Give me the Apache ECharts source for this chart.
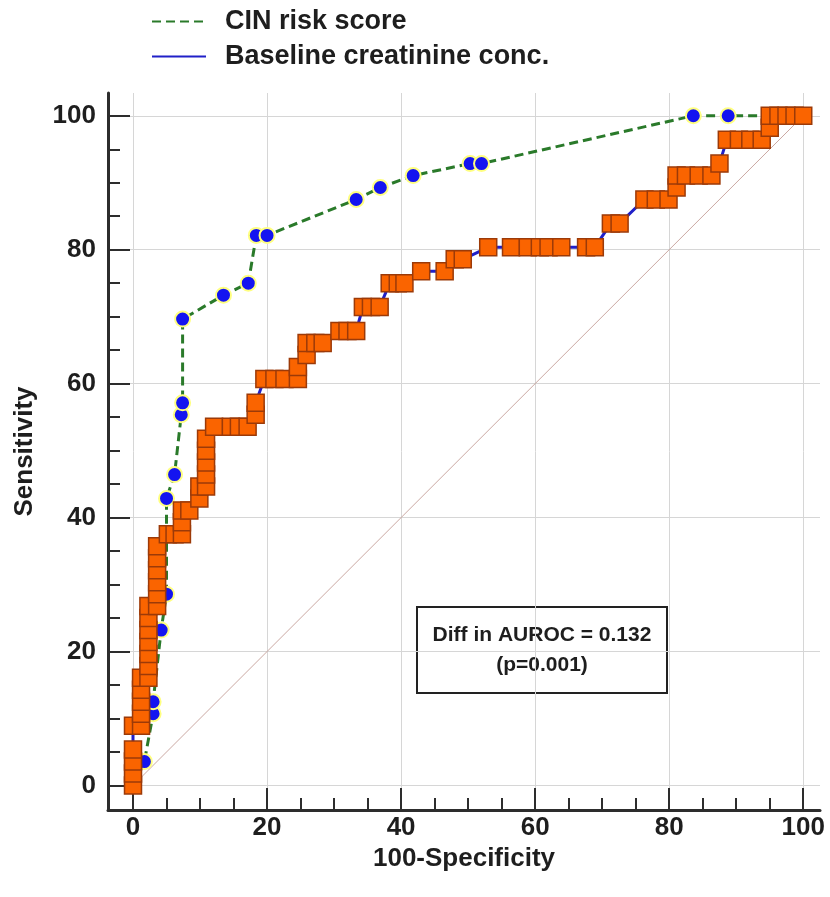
<!DOCTYPE html>
<html><head><meta charset="utf-8">
<script src="https://cdn.jsdelivr.net/npm/echarts@6/dist/echarts.min.js"></script>
<style>html,body{margin:0;padding:0;background:#fff}#c{width:830px;height:897px}</style>
</head><body><div id="c"></div><script>
// ---- data ----
const seriesNames = ['CIN risk score', 'Baseline creatinine conc.'];
const cinX = [0, 1.7, 3.0, 3.0, 4.2, 5.0, 5.0, 6.2, 7.2, 7.4, 7.4, 13.5, 17.2, 18.4, 20.0, 33.3, 36.9, 41.8, 50.3, 52.0, 83.6, 88.8, 100];
const cinY = [0, 3.57, 10.71, 12.5, 23.21, 28.57, 42.86, 46.43, 55.36, 57.14, 69.64, 73.21, 75.0, 82.14, 82.14, 87.5, 89.29, 91.07, 92.86, 92.86, 100, 100, 100];
const creatX = [0, 0, 0, 0, 0, 1.2, 1.2, 1.2, 1.2, 1.2, 2.3, 2.3, 2.3, 2.3, 2.3, 2.3, 2.3, 3.6, 3.6, 3.6, 3.6, 3.6, 3.6,
  5.2, 6.2, 7.3, 7.3, 7.3, 8.4, 9.9, 9.9, 10.9, 10.9, 10.9, 10.9, 10.9, 12.1, 14.6, 15.8, 17.1, 18.3, 18.3,
  19.6, 21.1, 22.6, 24.6, 24.6, 25.9, 25.9, 27.2, 28.3, 30.8, 32.0, 33.3, 34.3, 35.5, 36.8, 38.3, 39.5, 40.5,
  43.0, 46.5, 48.0, 49.2, 53.0, 56.4, 58.9, 60.7, 62.0, 63.9, 67.6, 68.9, 71.3, 72.6, 76.3, 78.0, 79.9,
  81.1, 81.1, 82.5, 84.4, 86.3, 87.5, 88.6, 90.4, 92.1, 93.8, 95.0, 95.0, 96.3, 97.5, 98.7, 100];
const creatY = [0, 1.79, 3.57, 5.36, 8.93, 8.93, 10.71, 12.5, 14.29, 16.07, 16.07, 17.86, 19.64, 21.43, 23.21, 25.0, 26.79, 26.79, 28.57, 30.36, 32.14, 33.93, 35.71,
  37.5, 37.5, 37.5, 39.29, 41.07, 41.07, 42.86, 44.64, 44.64, 46.43, 48.21, 50.0, 51.79, 53.57, 53.57, 53.57, 53.57, 55.36, 57.14,
  60.71, 60.71, 60.71, 60.71, 62.5, 64.29, 66.07, 66.07, 66.07, 67.86, 67.86, 67.86, 71.43, 71.43, 71.43, 75.0, 75.0, 75.0,
  76.79, 76.79, 78.57, 78.57, 80.36, 80.36, 80.36, 80.36, 80.36, 80.36, 80.36, 80.36, 83.93, 83.93, 87.5, 87.5, 87.5,
  89.29, 91.07, 91.07, 91.07, 91.07, 92.86, 96.43, 96.43, 96.43, 96.43, 98.21, 100, 100, 100, 100, 100];
const diagX = [0, 100];
const diagY = [0, 100];
const majorTicks = [0, 20, 40, 60, 80, 100];
const minorTicks = [5, 10, 15, 25, 30, 35, 45, 50, 55, 65, 70, 75, 85, 90, 95];
const annotation = ['Diff in AUROC = 0.132', '(p=0.001)'];
const xTitle = '100-Specificity';
const yTitle = 'Sensitivity';

// ---- chart ----
const zip = (a, b) => a.map((v, i) => [v, b[i]]);
const FONT = '"Liberation Sans", Arial, sans-serif';
const TXT = '#1e1e1e';
const AX = '#2d2d2d';
const XMIN = -3.73, XMAX = 102.5, YMIN = -3.66, YMAX = 103.4;

const chart = echarts.init(document.getElementById('c'), null, {renderer: 'canvas'});

function mainAxis(isX) {
  return {
    type: 'value', min: isX ? XMIN : YMIN, max: isX ? XMAX : YMAX,
    position: isX ? 'bottom' : 'left',
    axisLine: {show: true, onZero: false, lineStyle: {color: AX, width: 3}},
    axisTick: {show: true, inside: true, length: 22, customValues: majorTicks, lineStyle: {color: AX, width: 2}},
    axisLabel: {show: true, customValues: majorTicks, fontSize: 26, fontWeight: 'bold', color: TXT, fontFamily: FONT, margin: isX ? 5 : 12},
    splitLine: {show: true, lineStyle: {color: '#d6d6d6', width: 1}},
    name: isX ? xTitle : yTitle, nameLocation: 'middle', nameGap: isX ? 34 : 70, nameRotate: isX ? 0 : 90,
    nameTextStyle: {fontSize: 26, fontWeight: 'bold', color: TXT, fontFamily: FONT}
  };
}
function minorAxis(isX) {
  return {
    type: 'value', min: isX ? XMIN : YMIN, max: isX ? XMAX : YMAX,
    position: isX ? 'bottom' : 'left',
    axisLine: {show: false, onZero: false},
    axisTick: {show: true, inside: true, length: 12, customValues: minorTicks, lineStyle: {color: AX, width: 2}},
    axisLabel: {show: false},
    splitLine: {show: false}
  };
}

const option = {
  animation: false,
  backgroundColor: '#fff',
  grid: {left: 108, right: 10, top: 93, bottom: 87, containLabel: false},
  xAxis: [mainAxis(true), minorAxis(true)],
  yAxis: [mainAxis(false), minorAxis(false)],
  legend: {
    left: 146, top: 3, orient: 'vertical', itemGap: 8, itemWidth: 54, itemHeight: 26,
    data: seriesNames,
    itemStyle: {opacity: 0},
    textStyle: {fontSize: 27, fontWeight: 'bold', color: TXT, fontFamily: FONT, padding: [0, 0, 0, 14]}
  },
  series: [
    {
      type: 'line', name: 'diag', data: zip(diagX, diagY), symbol: 'none', silent: true,
      lineStyle: {color: '#cba9a3', width: 1}, xAxisIndex: 0, yAxisIndex: 0
    },
    {
      type: 'line', name: seriesNames[0], data: zip(cinX, cinY), xAxisIndex: 0, yAxisIndex: 0,
      symbol: 'circle', symbolSize: 15,
      lineStyle: {color: '#2a7a2a', width: 3, type: [9, 5]},
      itemStyle: {color: '#1414f0', borderColor: '#ffff80', borderWidth: 2}
    },
    {
      type: 'line', name: seriesNames[1], data: zip(creatX, creatY), xAxisIndex: 0, yAxisIndex: 0,
      symbol: 'rect', symbolSize: 17,
      lineStyle: {color: '#2020c8', width: 3},
      itemStyle: {color: '#fa6400', borderColor: '#9c3a08', borderWidth: 1.5}
    }
  ],
  graphic: [{
    type: 'group', left: 416, top: 606, z: 100,
    children: [
      {type: 'rect', shape: {x: 0, y: 0, width: 250, height: 86}, style: {fill: '#fff', stroke: '#222', lineWidth: 2}},
      {type: 'text', x: 125, y: 28, style: {text: annotation[0], fontSize: 21, fontWeight: 'bold', fontFamily: FONT, fill: TXT, align: 'center', verticalAlign: 'middle'}},
      {type: 'text', x: 125, y: 58, style: {text: annotation[1], fontSize: 21, fontWeight: 'bold', fontFamily: FONT, fill: TXT, align: 'center', verticalAlign: 'middle'}}
    ]
  }]
};
chart.setOption(option);
</script></body></html>
